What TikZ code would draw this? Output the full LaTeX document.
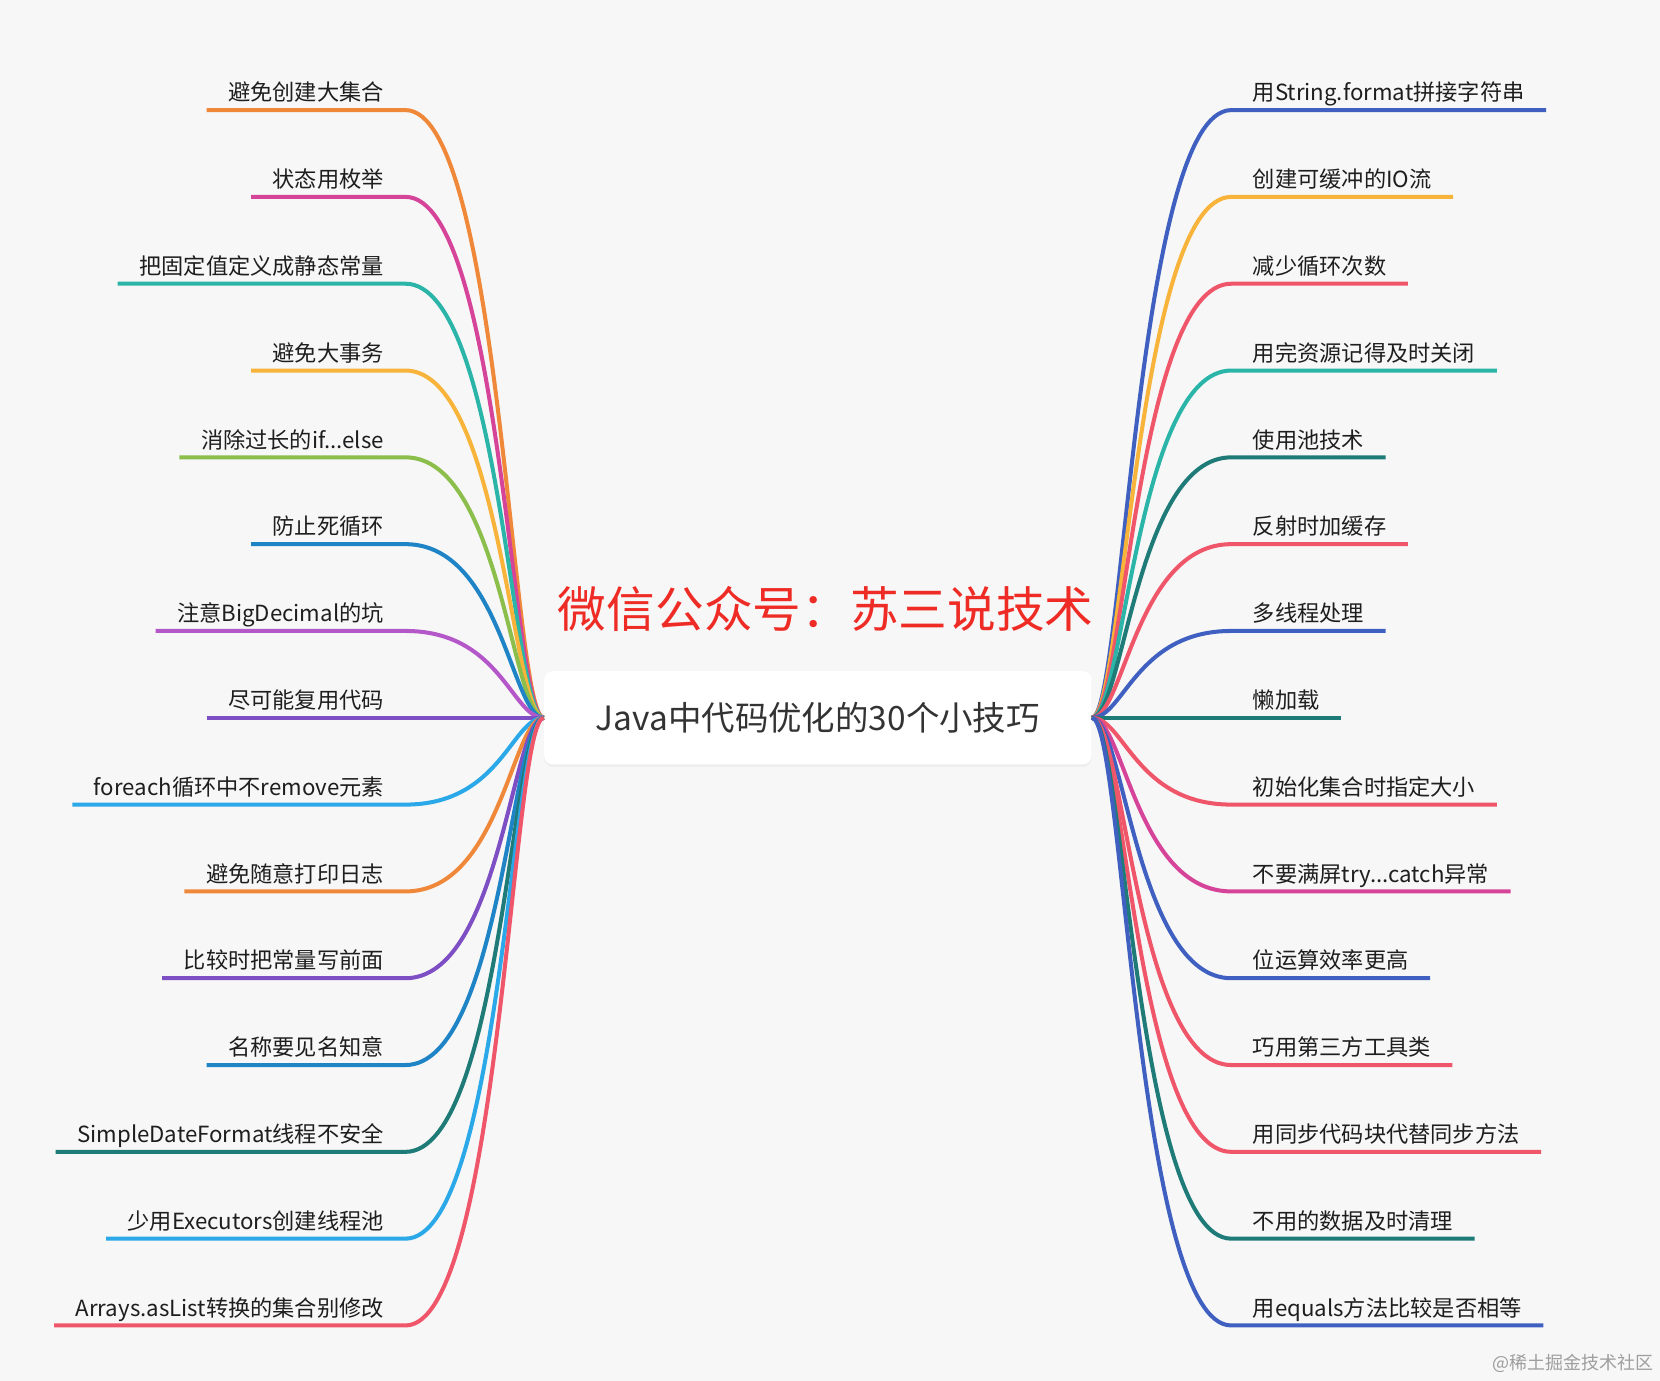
\documentclass[tikz,border=0pt]{standalone}
\usepackage{fontspec}
\setmainfont{Noto Sans CJK SC}
\usetikzlibrary{shadows}
\definecolor{bgmap}{RGB}{247,247,247}
\definecolor{tipink}{RGB}{30,30,30}
\definecolor{judulink}{RGB}{51,51,51}
\definecolor{merahwx}{RGB}{238,43,36}
\definecolor{brorange}{RGB}{240,136,58}
\definecolor{brpink}{RGB}{214,68,154}
\definecolor{brteal}{RGB}{43,181,168}
\definecolor{bryellow}{RGB}{248,180,58}
\definecolor{brgreen}{RGB}{139,190,75}
\definecolor{brblue}{RGB}{31,132,198}
\definecolor{brpurple}{RGB}{180,87,200}
\definecolor{brviolet}{RGB}{126,79,196}
\definecolor{brsky}{RGB}{42,168,232}
\definecolor{brdteal}{RGB}{30,123,120}
\definecolor{brred}{RGB}{240,86,106}
\definecolor{brnavy}{RGB}{63,96,192}

\begin{document}
\begin{tikzpicture}[x=0.5pt, y=-0.5pt,
        root/.style={rectangle, rounded corners=4pt, fill=white, minimum width=258.5pt,
                     minimum height=44pt, text=judulink, font=\fontsize{15.8}{19}\selectfont,
                     drop shadow={shadow xshift=0pt, shadow yshift=-1.2pt, opacity=0.07}},
        ltip/.style={anchor=south east, inner xsep=10pt, inner ysep=2pt, text depth=2.2pt,
                     text=tipink, font=\fontsize{10.5}{12}\selectfont},
        rtip/.style={ltip, anchor=south west},
        branch/.style={draw=#1, line width=1.9pt},
        lbend/.style={out=0, in=180, out distance=45pt, in distance=15pt},
        rbend/.style={out=0, in=180, out distance=15pt, in distance=45pt}
    ]
        \useasboundingbox (0,0) rectangle (1568,1304);
        \fill[bgmap] (0,0) rectangle (1568,1304);

        \node[root] (root) at (772.5,678) {Java中代码优化的30个小技巧};
        \node[text=merahwx, font=\fontsize{23}{27}\selectfont] (wx) at (780,575) {微信公众号：苏三说技术};

        % kiri
        \node[ltip] (l1)  at (383,104)  {避免创建大集合};
        \node[ltip] (l2)  at (383,186)  {状态用枚举};
        \node[ltip] (l3)  at (383,268)  {把固定值定义成静态常量};
        \node[ltip] (l4)  at (383,350)  {避免大事务};
        \node[ltip] (l5)  at (383,432)  {消除过长的if...else};
        \node[ltip] (l6)  at (383,514)  {防止死循环};
        \node[ltip] (l7)  at (383,596)  {注意BigDecimal的坑};
        \node[ltip] (l8)  at (383,678)  {尽可能复用代码};
        \node[ltip] (l9)  at (383,760)  {foreach循环中不remove元素};
        \node[ltip] (l10) at (383,842)  {避免随意打印日志};
        \node[ltip] (l11) at (383,924)  {比较时把常量写前面};
        \node[ltip] (l12) at (383,1006) {名称要见名知意};
        \node[ltip] (l13) at (383,1088) {SimpleDateFormat线程不安全};
        \node[ltip] (l14) at (383,1170) {少用Executors创建线程池};
        \node[ltip] (l15) at (383,1252) {Arrays.asList转换的集合别修改};

        % kanan
        \node[rtip] (r1)  at (1163,104)  {用String.format拼接字符串};
        \node[rtip] (r2)  at (1163,186)  {创建可缓冲的IO流};
        \node[rtip] (r3)  at (1163,268)  {减少循环次数};
        \node[rtip] (r4)  at (1163,350)  {用完资源记得及时关闭};
        \node[rtip] (r5)  at (1163,432)  {使用池技术};
        \node[rtip] (r6)  at (1163,514)  {反射时加缓存};
        \node[rtip] (r7)  at (1163,596)  {多线程处理};
        \node[rtip] (r8)  at (1163,678)  {懒加载};
        \node[rtip] (r9)  at (1163,760)  {初始化集合时指定大小};
        \node[rtip] (r10) at (1163,842)  {不要满屏try...catch异常};
        \node[rtip] (r11) at (1163,924)  {位运算效率更高};
        \node[rtip] (r12) at (1163,1006) {巧用第三方工具类};
        \node[rtip] (r13) at (1163,1088) {用同步代码块代替同步方法};
        \node[rtip] (r14) at (1163,1170) {不用的数据及时清理};
        \node[rtip] (r15) at (1163,1252) {用equals方法比较是否相等};

        \draw[branch=brorange] (l1.south west) -- (l1.south east) to[lbend] (root.west);
        \draw[branch=brpink]   (l2.south west) -- (l2.south east) to[lbend] (root.west);
        \draw[branch=brteal]   (l3.south west) -- (l3.south east) to[lbend] (root.west);
        \draw[branch=bryellow] (l4.south west) -- (l4.south east) to[lbend] (root.west);
        \draw[branch=brgreen]  (l5.south west) -- (l5.south east) to[lbend] (root.west);
        \draw[branch=brblue]   (l6.south west) -- (l6.south east) to[lbend] (root.west);
        \draw[branch=brpurple] (l7.south west) -- (l7.south east) to[lbend] (root.west);
        \draw[branch=brviolet] (l8.south west) -- (root.west);
        \draw[branch=brsky]    (l9.south west) -- (l9.south east) to[lbend] (root.west);
        \draw[branch=brorange] (l10.south west) -- (l10.south east) to[lbend] (root.west);
        \draw[branch=brviolet] (l11.south west) -- (l11.south east) to[lbend] (root.west);
        \draw[branch=brblue]   (l12.south west) -- (l12.south east) to[lbend] (root.west);
        \draw[branch=brdteal]  (l13.south west) -- (l13.south east) to[lbend] (root.west);
        \draw[branch=brsky]    (l14.south west) -- (l14.south east) to[lbend] (root.west);
        \draw[branch=brred]    (l15.south west) -- (l15.south east) to[lbend] (root.west);

        \draw[branch=brnavy]   (root.east) to[rbend] (r1.south west) -- (r1.south east);
        \draw[branch=bryellow] (root.east) to[rbend] (r2.south west) -- (r2.south east);
        \draw[branch=brred]    (root.east) to[rbend] (r3.south west) -- (r3.south east);
        \draw[branch=brteal]   (root.east) to[rbend] (r4.south west) -- (r4.south east);
        \draw[branch=brdteal]  (root.east) to[rbend] (r5.south west) -- (r5.south east);
        \draw[branch=brred]    (root.east) to[rbend] (r6.south west) -- (r6.south east);
        \draw[branch=brnavy]   (root.east) to[rbend] (r7.south west) -- (r7.south east);
        \draw[branch=brdteal]  (root.east) -- (r8.south east);
        \draw[branch=brred]    (root.east) to[rbend] (r9.south west) -- (r9.south east);
        \draw[branch=brpink]   (root.east) to[rbend] (r10.south west) -- (r10.south east);
        \draw[branch=brnavy]   (root.east) to[rbend] (r11.south west) -- (r11.south east);
        \draw[branch=brred]    (root.east) to[rbend] (r12.south west) -- (r12.south east);
        \draw[branch=brred]    (root.east) to[rbend] (r13.south west) -- (r13.south east);
        \draw[branch=brdteal]  (root.east) to[rbend] (r14.south west) -- (r14.south east);
        \draw[branch=brnavy]   (root.east) to[rbend] (r15.south west) -- (r15.south east);

        \node[text=black!38, font=\fontsize{8.5}{10}\selectfont] (jj) at (1486,1288) {@稀土掘金技术社区};
    \end{tikzpicture}
\end{document}
